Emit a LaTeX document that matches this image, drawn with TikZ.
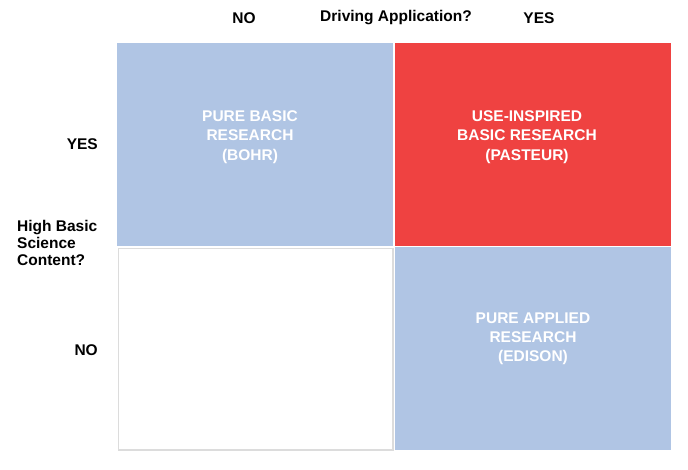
\documentclass[tikz,border=0pt]{standalone}
\usepackage{fontspec}
\setmainfont{Liberation Sans}
\usepackage{xcolor}
\definecolor{QuadBlue}{HTML}{B0C5E4}
\definecolor{QuadRed}{HTML}{EF4241}
\definecolor{QuadEdge}{HTML}{DCDCDC}
\usetikzlibrary{positioning}

\begin{document}
\begin{tikzpicture}[
  x=1pt,y=-1pt,
  quad/.style={anchor=north west,inner sep=0pt,minimum width=276pt,minimum height=203pt},
  blue/.style={quad,fill=QuadBlue},
  red/.style={quad,fill=QuadRed},
  empty/.style={quad,draw=QuadEdge,line width=1.4pt,fill=white,minimum width=274.6pt,minimum height=201.6pt},
  qtext/.style={align=center,font=\bfseries\fontsize{15.5}{19.2}\selectfont,text=white},
  axis/.style={font=\bfseries\fontsize{15.5}{17}\selectfont,inner sep=0pt}
]
  \useasboundingbox (0,0) rectangle (688,469);
  % quadrants
  \node[blue] (bohr) at (117,43) {};
  \node[red] (pasteur) at (395,43) {};
  \node[empty] (none) at (117.7,247.7) {};
  \node[blue] (edison) at (395,247) {};
  % quadrant texts
  \node[qtext] (bohrtxt) at (250,137) {PURE BASIC\\RESEARCH\\(BOHR)};
  \node[qtext] (pasteurtxt) at (527,137) {USE-INSPIRED\\BASIC RESEARCH\\(PASTEUR)};
  \node[qtext] (edisontxt) at (533,339) {PURE APPLIED\\RESEARCH\\(EDISON)};
  % axis labels
  \node[axis] (topq) at (396,18) {Driving Application?};
  \node[axis] (topno) at (244,18) {NO};
  \node[axis] (topyes) at (539,18) {YES};
  \node[axis,anchor=east] (leftyes) at (98,144) {YES};
  \node[axis,anchor=east] (leftno) at (98,350) {NO};
  \node[axis,anchor=west,align=left] (leftq) at (17,243) {High Basic\\Science\\Content?};
\end{tikzpicture}
\end{document}
